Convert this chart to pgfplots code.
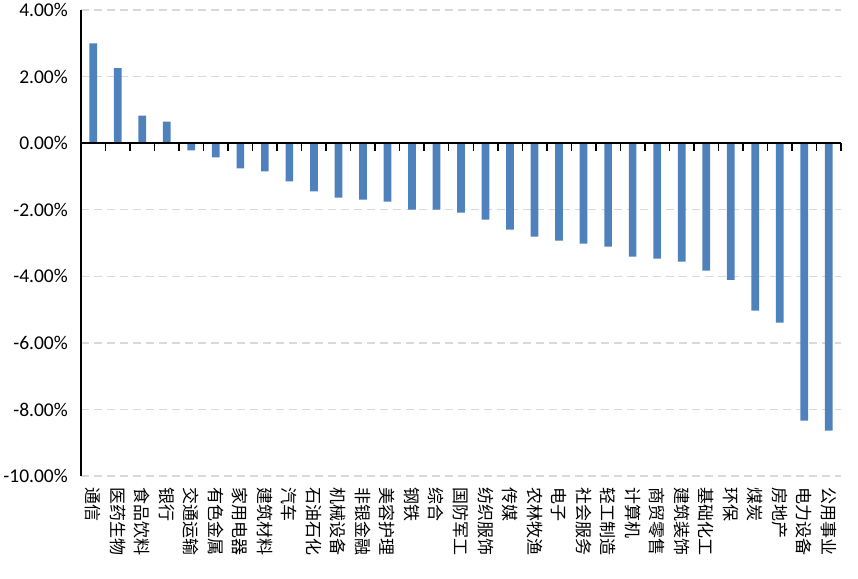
\documentclass[border=0pt]{standalone}
\usepackage{pgfplots}
\pgfplotsset{compat=1.18}
\usepackage{fontspec}
\setmainfont{Carlito}
\newfontfamily\cjk{Noto Sans CJK SC}
\definecolor{barblue}{HTML}{4F81BD}
\definecolor{gridgray}{HTML}{D9D9D9}
\begin{document}
\begin{tikzpicture}[x=1pt,y=1pt]
\useasboundingbox (0,0) rectangle (858,578);
\begin{axis}[
  at={(81pt,102pt)}, anchor=south west,
  scale only axis, width=760pt, height=466pt,
  xmin=-0.5, xmax=30.5, ymin=-10, ymax=4,
  axis lines*=left,
  x axis line style={draw=none},
  y axis line style={line width=1.5pt, black},
  xtick={0,...,30},
  xticklabels={通信,医药生物,食品饮料,银行,交通运输,有色金属,家用电器,建筑材料,汽车,石油石化,机械设备,非银金融,美容护理,钢铁,综合,国防军工,纺织服饰,传媒,农林牧渔,电子,社会服务,轻工制造,计算机,商贸零售,建筑装饰,基础化工,环保,煤炭,房地产,电力设备,公用事业},
  xticklabel style={font=\cjk\fontsize{17}{17}\selectfont, rotate=-90, anchor=west, inner sep=0pt},
  xticklabel shift=11pt,
  xtick style={draw=none},
  extra x ticks={0.5,1.5,...,30.5},
  extra x tick labels={},
  extra x tick style={draw=none},
  ytick={-10,-8,-6,-4,-2,0,2,4},
  yticklabels={-10.00\%,-8.00\%,-6.00\%,-4.00\%,-2.00\%,0.00\%,2.00\%,4.00\%},
  yticklabel style={font=\fontsize{19.5}{19.5}\selectfont, inner sep=0pt},
  yticklabel shift=13pt,
  ytick style={draw=none},
  ymajorgrids,
  grid style={gridgray, line width=1.5pt, dash pattern=on 8pt off 5pt},
  clip=false,
]
\addplot[ybar, bar width=7.7pt, fill=barblue, draw=none] coordinates {
(0,3.00) (1,2.25) (2,0.83) (3,0.65) (4,-0.22) (5,-0.43) (6,-0.76) (7,-0.85)
(8,-1.15) (9,-1.45) (10,-1.64) (11,-1.70) (12,-1.76) (13,-2.00) (14,-2.00)
(15,-2.09) (16,-2.30) (17,-2.60) (18,-2.81) (19,-2.93) (20,-3.02) (21,-3.11)
(22,-3.41) (23,-3.47) (24,-3.56) (25,-3.83) (26,-4.11) (27,-5.03) (28,-5.39)
(29,-8.34) (30,-8.64)
};
\draw[line width=1.5pt, black] (axis cs:-0.5,0) -- (axis cs:30.5,0);
\pgfplotsinvokeforeach{0.5,1.5,2.5,3.5,4.5,5.5,6.5,7.5,8.5,9.5,10.5,11.5,12.5,13.5,14.5,15.5,16.5,17.5,18.5,19.5,20.5,21.5,22.5,23.5,24.5,25.5,26.5,27.5,28.5,29.5,30.5}{
  \draw[line width=1.5pt, black] (axis cs:#1,0) -- ([yshift=-8pt]axis cs:#1,0);
}
\end{axis}
\end{tikzpicture}
\end{document}
